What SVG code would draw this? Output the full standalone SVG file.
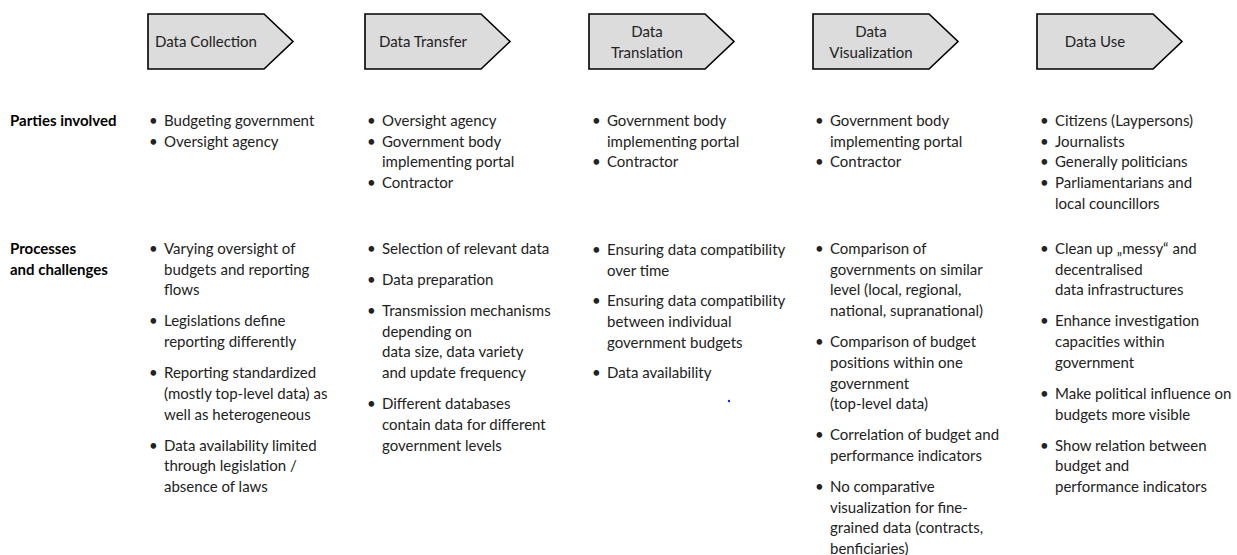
<svg xmlns="http://www.w3.org/2000/svg" width="1237" height="555" viewBox="0 0 1237 555">
<style>
text{font-family:Lato,"Liberation Sans",sans-serif;font-size:15px;fill:#222}
.h{font-weight:bold;fill:#000}
.box{fill:#dcdcdc;stroke:#000;stroke-width:1.6}
.bl{text-anchor:middle}
</style>
<rect width="1237" height="555" fill="#fff"/>
<g id="stage-collection"><path class="box" d="M148,14H264L293,41.5L264,69H148Z"/><text class="bl" x="206" y="47">Data Collection</text></g>
<g id="stage-transfer"><path class="box" d="M365,14H481L510,41.5L481,69H365Z"/><text class="bl" x="423" y="47">Data Transfer</text></g>
<g id="stage-translation"><path class="box" d="M589,14H705L734,41.5L705,69H589Z"/><text class="bl" x="647" y="37">Data</text><text class="bl" x="647" y="58">Translation</text></g>
<g id="stage-visualization"><path class="box" d="M813,14H929L958,41.5L929,69H813Z"/><text class="bl" x="871" y="37">Data</text><text class="bl" x="871" y="58">Visualization</text></g>
<g id="stage-use"><path class="box" d="M1037,14H1153L1182,41.5L1153,69H1037Z"/><text class="bl" x="1095" y="47">Data Use</text></g>
<g id="connectors"></g>
<g id="row-labels">
<text class="h" x="10" y="126">Parties involved</text>
<text class="h" x="10" y="254">Processes</text>
<text class="h" x="10" y="274.7">and challenges</text>
</g>
<g id="parties">
<text x="149" y="126">•</text><text x="164" y="126">Budgeting government</text>
<text x="149" y="146.7">•</text><text x="164" y="146.7">Oversight agency</text>

<text x="367" y="126">•</text><text x="382" y="126">Oversight agency</text>
<text x="367" y="146.7">•</text><text x="382" y="146.7">Government body</text>
<text x="382" y="167.4">implementing portal</text>
<text x="367" y="188.1">•</text><text x="382" y="188.1">Contractor</text>

<text x="592" y="126">•</text><text x="607" y="126">Government body</text>
<text x="607" y="146.7">implementing portal</text>
<text x="592" y="167.4">•</text><text x="607" y="167.4">Contractor</text>

<text x="815" y="126">•</text><text x="830" y="126">Government body</text>
<text x="830" y="146.7">implementing portal</text>
<text x="815" y="167.4">•</text><text x="830" y="167.4">Contractor</text>

<text x="1040" y="126">•</text><text x="1055" y="126">Citizens (Laypersons)</text>
<text x="1040" y="146.7">•</text><text x="1055" y="146.7">Journalists</text>
<text x="1040" y="167.4">•</text><text x="1055" y="167.4">Generally politicians</text>
<text x="1040" y="188.1">•</text><text x="1055" y="188.1">Parliamentarians and</text>
<text x="1055" y="208.8">local councillors</text>
</g>
<g id="processes">
<text x="149" y="254">•</text><text x="164" y="254">Varying oversight of</text>
<text x="164" y="274.7">budgets and reporting</text>
<text x="164" y="295.4">flows</text>
<text x="149" y="326.4">•</text><text x="164" y="326.4">Legislations define</text>
<text x="164" y="347.1">reporting differently</text>
<text x="149" y="378.1">•</text><text x="164" y="378.1">Reporting standardized</text>
<text x="164" y="398.8">(mostly top-level data) as</text>
<text x="164" y="419.5">well as heterogeneous</text>
<text x="149" y="450.5">•</text><text x="164" y="450.5">Data availability limited</text>
<text x="164" y="471.2">through legislation /</text>
<text x="164" y="491.9">absence of laws</text>

<text x="367" y="254">•</text><text x="382" y="254">Selection of relevant data</text>
<text x="367" y="285">•</text><text x="382" y="285">Data preparation</text>
<text x="367" y="316">•</text><text x="382" y="316">Transmission mechanisms</text>
<text x="382" y="336.7">depending on</text>
<text x="382" y="357.4">data size, data variety</text>
<text x="382" y="378.1">and update frequency</text>
<text x="367" y="409.1">•</text><text x="382" y="409.1">Different databases</text>
<text x="382" y="429.8">contain data for different</text>
<text x="382" y="450.5">government levels</text>

<text x="592" y="255">•</text><text x="607" y="255">Ensuring data compatibility</text>
<text x="607" y="275.7">over time</text>
<text x="592" y="306.2">•</text><text x="607" y="306.2">Ensuring data compatibility</text>
<text x="607" y="326.9">between individual</text>
<text x="607" y="347.6">government budgets</text>
<text x="592" y="378.1">•</text><text x="607" y="378.1">Data availability</text>
<circle cx="729" cy="401" r="1.2" fill="#1a1aff"/>

<text x="815" y="254">•</text><text x="830" y="254">Comparison of</text>
<text x="830" y="274.7">governments on similar</text>
<text x="830" y="295.4">level (local, regional,</text>
<text x="830" y="316.1">national, supranational)</text>
<text x="815" y="347.1">•</text><text x="830" y="347.1">Comparison of budget</text>
<text x="830" y="367.8">positions within one</text>
<text x="830" y="388.5">government</text>
<text x="830" y="409.2">(top-level data)</text>
<text x="815" y="440.2">•</text><text x="830" y="440.2">Correlation of budget and</text>
<text x="830" y="460.9">performance indicators</text>
<text x="815" y="491.9">•</text><text x="830" y="491.9">No comparative</text>
<text x="830" y="512.6">visualization for fine-</text>
<text x="830" y="533.3">grained data (contracts,</text>
<text x="830" y="554">benficiaries)</text>

<text x="1040" y="254">•</text><text x="1055" y="254">Clean up „messy“ and</text>
<text x="1055" y="274.7">decentralised</text>
<text x="1055" y="295.4">data infrastructures</text>
<text x="1040" y="326.4">•</text><text x="1055" y="326.4">Enhance investigation</text>
<text x="1055" y="347.1">capacities within</text>
<text x="1055" y="367.8">government</text>
<text x="1040" y="398.8">•</text><text x="1055" y="398.8">Make political influence on</text>
<text x="1055" y="419.5">budgets more visible</text>
<text x="1040" y="450.5">•</text><text x="1055" y="450.5">Show relation between</text>
<text x="1055" y="471.2">budget and</text>
<text x="1055" y="491.9">performance indicators</text>
</g>
</svg>
